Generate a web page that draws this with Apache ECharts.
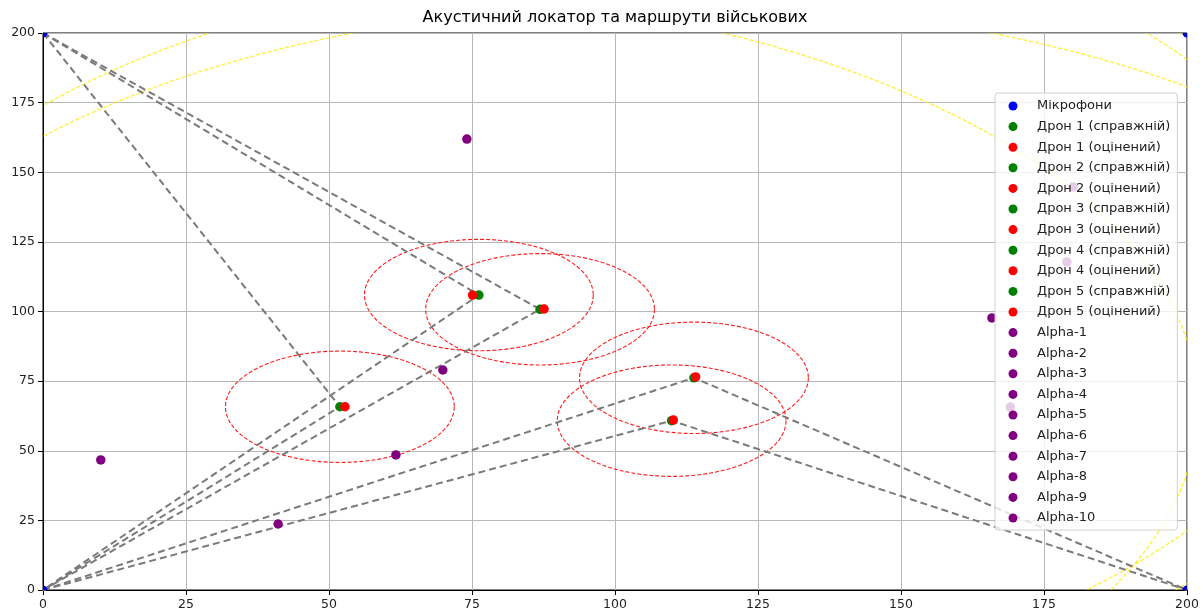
<!DOCTYPE html>
<html>
<head>
<meta charset="utf-8">
<script src="https://cdn.jsdelivr.net/npm/echarts@6/dist/echarts.min.js"></script>
<style>
  html, body { margin: 0; padding: 0; background: #fff; }
  #chart { width: 1203px; height: 612px; }
</style>
</head>
<body>
<div id="chart"></div>
<script>
// ---- data ----
const titleText = 'Акустичний локатор та маршрути військових';
const axisTicks = [0, 25, 50, 75, 100, 125, 150, 175, 200];

const micX = [0, 0, 200, 200];
const micY = [0, 200, 0, 200];

const droneNames = ['Дрон 1', 'Дрон 2', 'Дрон 3', 'Дрон 4', 'Дрон 5'];
const trueX = [51.9, 76.2, 86.9, 113.8, 109.9];
const trueY = [65.8, 105.9, 100.8, 76.2, 60.8];
const estX  = [52.8, 75.1, 87.6, 114.1, 110.2];
const estY  = [65.8, 105.9, 100.9, 76.5, 61.0];

// route start / end points (microphone corners)
const routeStartX = [0, 0, 0, 0, 0];
const routeStartY = [200, 200, 200, 0, 0];
const routeEndX   = [0, 0, 0, 200, 200];
const routeEndY   = [0, 0, 0, 0, 0];

const errorRadius = 20;   // red dashed circles
const soundRadius = 150;  // yellow dashed circles

const alphaNames = ['Alpha-1','Alpha-2','Alpha-3','Alpha-4','Alpha-5','Alpha-6','Alpha-7','Alpha-8','Alpha-9','Alpha-10'];
const alphaX = [74.1, 10.1, 69.9, 61.7, 41.1, 165.9, 180.1, 179.0, 169.1, null];
const alphaY = [161.9, 46.7, 79.0, 48.5, 23.7, 97.7, 144.7, 117.8, 65.7, null];

// ---- styling ----
const FONT = 'DejaVu Sans';
const chart = echarts.init(document.getElementById('chart'), null, { renderer: 'canvas' });

function ellipseRenderer(radius, color, dash, width) {
  return function (params, api) {
    const c = api.coord([api.value(0), api.value(1)]);
    const s = api.size([radius, radius]);
    const pts = [];
    for (let k = 0; k <= 180; k++) {
      const a = k / 180 * 2 * Math.PI;
      pts.push([c[0] + s[0] * Math.cos(a), c[1] + s[1] * Math.sin(a)]);
    }
    return {
      type: 'polyline',
      shape: { points: pts },
      style: { stroke: color, lineWidth: width, lineDash: dash, fill: null }
    };
  };
}

const centers = trueX.map((x, i) => [x, trueY[i]]);
const series = [];
const legendData = [];

// yellow circles
series.push({
  type: 'custom', name: 'soundCircles', coordinateSystem: 'cartesian2d',
  clip: true, silent: true, z: 1,
  encode: { x: 0, y: 1 },
  data: centers,
  renderItem: ellipseRenderer(soundRadius, 'rgba(255,235,0,0.8)', [4, 2], 1.3)
});

// routes
for (let i = 0; i < droneNames.length; i++) {
  series.push({
    type: 'line', name: 'route' + (i + 1), silent: true, z: 2,
    symbol: 'none', clip: true,
    lineStyle: { color: '#7a7a7a', width: 2, type: [7, 4] },
    data: [[routeStartX[i], routeStartY[i]], [trueX[i], trueY[i]], [routeEndX[i], routeEndY[i]]]
  });
}

// red error circles
series.push({
  type: 'custom', name: 'errorCircles', coordinateSystem: 'cartesian2d',
  clip: true, silent: true, z: 2,
  encode: { x: 0, y: 1 },
  data: centers,
  renderItem: ellipseRenderer(errorRadius, '#ff1a1a', [4, 2], 1.1)
});

// microphones (clipped at the plot frame)
series.push({
  type: 'custom', name: 'Мікрофони', coordinateSystem: 'cartesian2d',
  clip: true, z: 4,
  itemStyle: { color: '#0000ff' },
  encode: { x: 0, y: 1 },
  data: micX.map((x, i) => [x, micY[i]]),
  renderItem: function (params, api) {
    const p = api.coord([api.value(0), api.value(1)]);
    return { type: 'circle', shape: { cx: p[0], cy: p[1], r: 4.5 }, style: { fill: '#0000cc' } };
  }
});
legendData.push({ name: 'Мікрофони', icon: 'circle' });

for (let i = 0; i < droneNames.length; i++) {
  const nT = droneNames[i] + ' (справжній)';
  const nE = droneNames[i] + ' (оцінений)';
  series.push({
    type: 'scatter', name: nT, z: 5, symbolSize: 9.5,
    itemStyle: { color: '#008000', opacity: 1 },
    data: [[trueX[i], trueY[i]]]
  });
  series.push({
    type: 'scatter', name: nE, z: 5, symbolSize: 9.5,
    itemStyle: { color: '#ff0000', opacity: 1 },
    data: [[estX[i], estY[i]]]
  });
  legendData.push({ name: nT, icon: 'circle' });
  legendData.push({ name: nE, icon: 'circle' });
}

for (let i = 0; i < alphaNames.length; i++) {
  series.push({
    type: 'scatter', name: alphaNames[i], z: 5, symbolSize: 9.5,
    itemStyle: { color: '#800080', opacity: 1 },
    data: alphaX[i] == null ? [] : [[alphaX[i], alphaY[i]]]
  });
  legendData.push({ name: alphaNames[i], icon: 'circle' });
}

const axisCommon = {
  type: 'value', min: axisTicks[0], max: axisTicks[axisTicks.length - 1],
  interval: axisTicks[1] - axisTicks[0],
  axisLine: { show: true, onZero: false, lineStyle: { color: '#000', width: 1 } },
  axisTick: { show: true, length: 5, lineStyle: { color: '#000', width: 1 } },
  splitLine: { show: true, lineStyle: { color: '#b8b8b8', width: 1 } },
  axisLabel: { color: '#222', fontFamily: FONT, fontSize: 12.5, margin: 8 }
};

chart.setOption({
  animation: false,
  backgroundColor: '#fff',
  title: {
    text: titleText, left: 615, top: 10, padding: 0, textAlign: 'center',
    textStyle: { fontFamily: FONT, fontSize: 16, fontWeight: 'normal', color: '#000' }
  },
  grid: {
    left: 43, right: 16, top: 33, bottom: 22, containLabel: false,
    show: true, borderColor: '#000', borderWidth: 1, backgroundColor: 'transparent'
  },
  xAxis: Object.assign({}, axisCommon),
  yAxis: Object.assign({}, axisCommon),
  legend: {
    data: legendData, orient: 'vertical', left: 995, top: 93,
    padding: [6, 7, 5, 13.5], itemWidth: 38, itemHeight: 9, itemGap: 6.6,
    backgroundColor: 'rgba(255,255,255,0.8)', borderColor: '#d0d0d0', borderWidth: 1, borderRadius: 3,
    selectedMode: false, z: 10,
    textStyle: { fontFamily: FONT, fontSize: 13, color: '#222', lineHeight: 14, padding: [0, 0, 0, 0] }
  },
  series: series
});
</script>
</body>
</html>
